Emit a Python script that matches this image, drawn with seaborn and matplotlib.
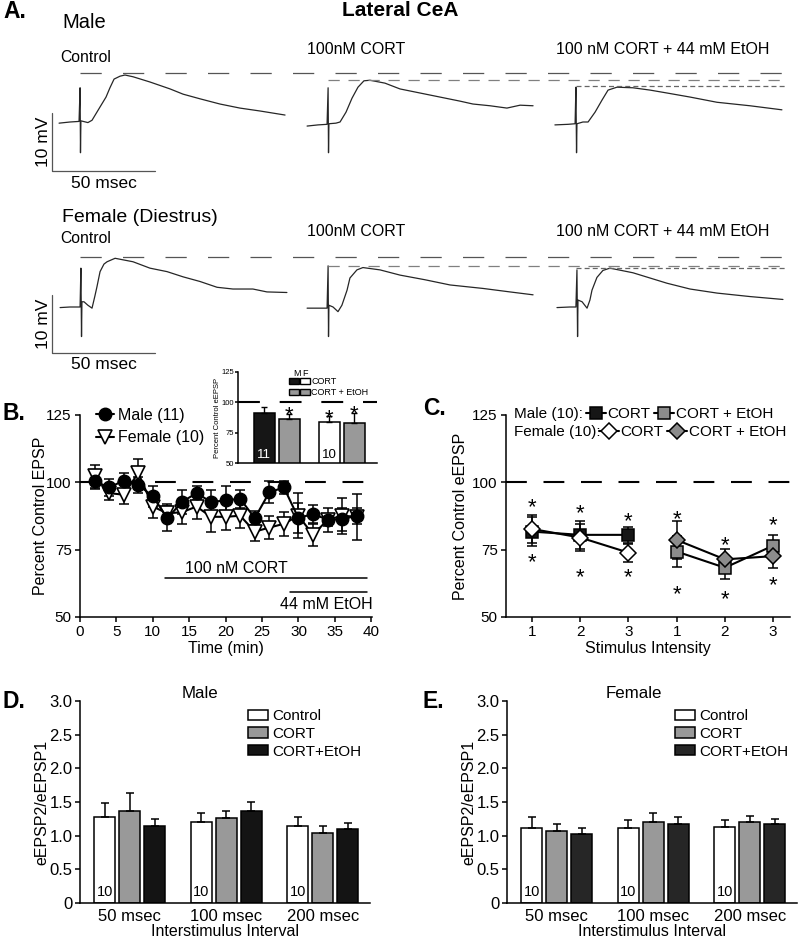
import numpy as np
import pandas as pd
import matplotlib
matplotlib.use("Agg")
import matplotlib.pyplot as plt
import matplotlib.transforms as mtrans
import seaborn as sns
from matplotlib.patches import Patch
from matplotlib.legend_handler import HandlerTuple

# ---------------- data ----------------
# A: example traces (time in ms, mV relative to control baseline of each row)
male_ctrl_t = [4.4, 9.7, 14.1, 14.6, 14.8, 15.0, 18.4, 20.4, 24.3, 27.2, 29.1, 31.1, 34.0, 36.4, 40.3,
               48.5, 58.3, 64.6, 72.8, 82.5, 92.2, 101.9, 114.1]
male_ctrl_mv = [-0.2, 0.0, 0.1, 5.9, -5.3, 0.2, -0.1, 0.3, 2.6, 4.3, 5.9, 7.4, 7.9, 8.1, 7.8,
                6.9, 5.7, 4.8, 4.0, 3.1, 2.4, 1.9, 1.2]
male_cort_t = [124.8, 130.1, 134.5, 135.0, 135.2, 135.4, 138.8, 140.8, 143.7, 146.6, 149.5, 152.4, 155.3,
               162.6, 169.9, 179.6, 189.3, 199.0, 205.3, 213.6, 221.8, 228.2, 234.5]
male_cort_mv = [-0.7, -0.5, -0.4, 5.9, -5.3, -0.3, -0.2, 0.0, 1.7, 4.1, 6.0, 7.1, 7.2,
                6.7, 5.7, 5.0, 4.3, 3.6, 3.1, 2.8, 2.4, 2.9, 2.8]
male_etoh_t = [245.1, 251.5, 254.9, 255.3, 255.6, 255.8, 258.7, 261.2, 264.6, 268.0, 270.9, 275.2, 283.0,
               291.3, 299.5, 310.7, 323.8, 339.8, 355.3]
male_etoh_mv = [-0.5, -0.4, -0.3, 6.0, -5.3, -0.3, 0.0, 0.0, 1.7, 3.8, 5.5, 6.0, 5.9,
                5.5, 5.0, 4.3, 3.4, 2.8, 2.1]
female_ctrl_t = [4.9, 9.7, 14.6, 15.0, 15.3, 15.5, 16.5, 18.4, 20.4, 21.8, 22.8, 24.3, 26.2, 27.7, 31.6,
                 40.3, 48.5, 56.8, 64.6, 72.8, 81.1, 88.8, 98.5, 105.3, 115.0]
female_ctrl_mv = [-0.1, 0.0, 0.0, 6.7, -5.1, 0.9, 0.9, 0.3, -0.2, 1.9, 3.5, 6.1, 7.4, 7.8, 8.4,
                  7.8, 6.7, 6.1, 5.2, 4.4, 3.4, 3.1, 3.1, 2.6, 2.5]
female_cort_t = [124.8, 130.1, 134.5, 135.0, 135.2, 135.4, 137.4, 139.8, 141.7, 144.2, 145.6, 149.0, 151.9,
                 160.2, 169.9, 182.0, 194.2, 210.2, 223.3, 234.5]
female_cort_mv = [-0.2, -0.2, -0.2, 7.1, -5.1, 0.3, 0.0, -0.8, 0.3, 2.9, 5.0, 6.4, 6.8,
                  6.4, 5.5, 4.7, 3.8, 3.2, 2.6, 2.1]
female_etoh_t = [246.1, 252.4, 255.3, 255.8, 256.1, 256.3, 258.3, 260.7, 262.1, 263.1, 265.5, 268.4, 271.8,
                 283.0, 299.5, 310.7, 323.8, 339.8, 355.8]
female_etoh_mv = [-0.1, 0.0, 0.0, 6.4, -5.1, 1.2, 0.9, -0.2, 1.2, 2.9, 5.1, 6.3, 6.7,
                  5.9, 4.1, 3.1, 2.4, 1.8, 1.3]
# peak reference levels (mV) and where they start (ms)
male_peaks = [8.45, 7.24, 6.21]
female_peaks = [8.62, 7.07, 6.81]
peak_starts = [14.6, 135.0, 255.5]

# B: time course
time_min = [2, 4, 6, 8, 10, 12, 14, 16, 18, 20, 22, 24, 26, 28, 30, 32, 34, 36, 38]
male_pct = [100.4, 98.1, 100.6, 99.1, 94.8, 86.7, 92.7, 96.0, 92.7, 93.3, 93.9, 86.7, 96.3, 98.1,
            86.7, 88.3, 86.1, 86.3, 87.6]
male_sem = [3.0, 3.2, 2.9, 3.0, 4.0, 4.6, 4.6, 2.5, 4.6, 5.2, 3.4, 2.7, 4.1, 2.5, 5.6, 3.4, 2.2, 4.3, 3.0]
female_pct = [102.2, 96.0, 95.4, 103.5, 91.0, 88.5, 88.9, 91.0, 87.2, 87.2, 87.6, 81.7, 83.2, 84.6,
              87.6, 80.5, 86.1, 87.6, 87.2]
female_sem = [4.4, 2.7, 3.5, 5.0, 4.4, 3.4, 4.4, 4.6, 5.6, 5.0, 4.7, 3.5, 4.4, 4.4, 8.3, 4.0, 4.5, 6.6, 8.5]

# B inset
inset_labels = ["M CORT", "M CORT + EtOH", "F CORT", "F CORT + EtOH"]
inset_pos = [0, 1, 2.6, 3.6]
inset_vals = [91, 86, 84, 83]
inset_sem = [5, 4.5, 4.5, 8]
inset_n = ["11", "", "10", ""]
inset_colors = ["#161616", "#999999", "white", "#999999"]
inset_star = [None, 95.3, 93.0, 96.0]

# C: input-output
intensity_labels = ["1", "2", "3", "1", "2", "3"]
c_x_cort = [1, 2, 3]
c_x_etoh = [4, 5, 6]
c_male_cort = [81.7, 80.5, 80.5]
c_male_cort_sem = [5.5, 5.2, 3.1]
c_female_cort = [82.7, 79.5, 73.9]
c_female_cort_sem = [5.3, 5.1, 3.3]
c_male_etoh = [74.3, 68.3, 76.5]
c_male_etoh_sem = [5.8, 4.1, 4.0]
c_female_etoh = [78.6, 71.4, 72.6]
c_female_etoh_sem = [7.0, 4.0, 4.5]
star_above = [93.5, 91.0, 88.2, 88.9, 79.2, 86.7]
star_below = [72.8, 67.4, 67.4, 60.9, 59.1, 64.3]

# D / E: paired pulse ratio
isi_labels = ["50 msec", "100 msec", "200 msec"]
treatments = ["Control", "CORT", "CORT+EtOH"]
male_ctrl_ppr = [1.27, 1.20, 1.15]
male_cort_ppr = [1.37, 1.26, 1.04]
male_etoh_ppr = [1.14, 1.36, 1.10]
male_ctrl_err = [0.21, 0.13, 0.13]
male_cort_err = [0.27, 0.11, 0.11]
male_etoh_err = [0.11, 0.14, 0.09]
female_ctrl_ppr = [1.12, 1.12, 1.13]
female_cort_ppr = [1.07, 1.20, 1.21]
female_etoh_ppr = [1.03, 1.17, 1.17]
female_ctrl_err = [0.15, 0.11, 0.11]
female_cort_err = [0.11, 0.13, 0.08]
female_etoh_err = [0.08, 0.10, 0.08]

# ---------------- style ----------------
sns.set_style("ticks")
plt.rcParams["font.family"] = ["Liberation Sans", "DejaVu Sans"]
plt.rcParams.update({
    "axes.linewidth": 1.1, "axes.edgecolor": "black", "text.color": "black",
    "axes.labelcolor": "black", "xtick.color": "black", "ytick.color": "black",
    "xtick.major.size": 3.5, "ytick.major.size": 3.5,
    "xtick.major.width": 1.1, "ytick.major.width": 1.1,
    "xtick.major.pad": 2.5, "ytick.major.pad": 2.5,
})

W, H = 800, 939
fig = plt.figure(figsize=(W / 100, H / 100), dpi=100)


def box(x0, y0, x1, y1):
    return [x0 / W, 1 - y1 / H, (x1 - x0) / W, (y1 - y0) / H]


def ftext(x, y, s, **kw):
    kw.setdefault("va", "center")
    fig.text(x / W, 1 - y / H, s, **kw)


# ---------------- panel A ----------------
ftext(3, 12, "A.", fontsize=16.5, fontweight="bold")
ftext(400, 10, "Lateral CeA", fontsize=15, fontweight="bold", ha="center")
ftext(62, 23, "Male", fontsize=14.5)
ftext(60, 58, "Control", fontsize=11.3)
ftext(307, 49, "100nM CORT", fontsize=11.5)
ftext(556, 49, "100 nM CORT + 44 mM EtOH", fontsize=11.5)
ftext(62, 217, "Female (Diestrus)", fontsize=14)
ftext(60, 239, "Control", fontsize=11.3)
ftext(307, 232, "100nM CORT", fontsize=11.5)
ftext(556, 231, "100 nM CORT + 44 mM EtOH", fontsize=11.5)

ref_styles = [("#555555", (0, (17, 17))), ("#808080", (0, (9, 7))), ("#666666", (0, (4, 2.5)))]


def trace_row(top, traces, peaks, bar_bottom, label_y):
    ax = fig.add_axes(box(50, top, 790, top + 120))
    ax.set_xlim(0, 740 / 2.06)
    ax.set_ylim(-10.0, 10.69)
    ax.axis("off")
    for t, v in traces:
        sns.lineplot(x=t, y=v, ax=ax, color="#262626", lw=0.9, sort=False, estimator=None)
    for lvl, t0, (c, ls) in zip(peaks, peak_starts, ref_styles):
        ax.plot([t0, 356.8], [lvl, lvl], color=c, lw=0.9, ls=ls)
    # scale bar 50 ms / 10 mV
    ax.plot([1.0, 1.0, 51.0], [bar_bottom + 10, bar_bottom, bar_bottom], color="#555555", lw=0.9)
    ftext(43, label_y[0], "10 mV", fontsize=12.5, rotation=90, ha="center")
    ftext(104, label_y[1], "50 msec", fontsize=12.5, ha="center")


trace_row(60, [(male_ctrl_t, male_ctrl_mv), (male_cort_t, male_cort_mv), (male_etoh_t, male_etoh_mv)],
          male_peaks, -8.45, (142, 183))
trace_row(245, [(female_ctrl_t, female_ctrl_mv), (female_cort_t, female_cort_mv),
                (female_etoh_t, female_etoh_mv)], female_peaks, -7.93, (324, 364))

dash100 = (0, (10, 8))

# ---------------- panel B ----------------
ftext(2, 413, "B.", fontsize=16.5, fontweight="bold")
ax_b = fig.add_axes(box(80, 415, 372, 617))
ax_b.set_facecolor("none")
ax_b.axhline(100, color="black", lw=1.5, ls=dash100, zorder=1)
ax_b.errorbar(time_min, female_pct, yerr=female_sem, fmt="none", ecolor="black",
              elinewidth=1.1, capsize=3.5, capthick=1.1, zorder=2)
ax_b.errorbar(time_min, male_pct, yerr=male_sem, fmt="none", ecolor="black",
              elinewidth=1.1, capsize=3.5, capthick=1.1, zorder=2)
sns.lineplot(x=time_min, y=female_pct, ax=ax_b, color="black", lw=1.5, marker="v",
             markersize=9.5, markerfacecolor="white", markeredgecolor="black",
             markeredgewidth=1.2, zorder=3)
sns.lineplot(x=time_min, y=male_pct, ax=ax_b, color="black", lw=1.5, marker="o",
             markersize=9, markerfacecolor="black", markeredgecolor="black",
             markeredgewidth=1.0, zorder=4)
lines_b = ax_b.get_lines()
h_female, h_male = lines_b[-2], lines_b[-1]
ax_b.plot([11.7, 39.4], [64.6, 64.6], color="black", lw=1.1)
ax_b.plot([28.9, 39.4], [59.3, 59.3], color="black", lw=1.1)
ax_b.text(21.5, 67.9, "100 nM CORT", fontsize=11.5, ha="center", va="center")
ax_b.text(33.8, 54.5, "44 mM EtOH", fontsize=11.5, ha="center", va="center")
ax_b.set_xlim(0, 40.1)
ax_b.set_ylim(50, 125)
ax_b.set_xticks(range(0, 41, 5))
ax_b.set_yticks([50, 75, 100, 125])
ax_b.tick_params(labelsize=11)
ax_b.set_xlabel("Time (min)", fontsize=11.5)
ax_b.set_ylabel("Percent Control EPSP", fontsize=11.5)
ax_b.xaxis.set_label_coords(0.5, -0.12)
ax_b.yaxis.set_label_coords(-0.11, 0.5)
sns.despine(ax=ax_b)
ax_b.legend([h_male, h_female], ["Male (11)", "Female (10)"], loc="upper left",
            bbox_to_anchor=(96 / W, 1 - 408 / H), bbox_transform=fig.transFigure,
            frameon=False, fontsize=11.5, handlelength=1.1, handletextpad=0.3,
            borderpad=0, borderaxespad=0, labelspacing=0.45)

# inset
ax_in = fig.add_axes(box(238, 372, 377, 463))
ax_in.set_facecolor("none")
ax_in.axhline(100, color="black", lw=1.5, ls=(0, (10.5, 9.5)), zorder=0)
sns.barplot(x=inset_pos, y=inset_vals, hue=inset_labels, palette=dict(zip(inset_labels, inset_colors)),
            native_scale=True, dodge=False, width=0.84, saturation=1, edgecolor="black",
            linewidth=1.1, errorbar=None, legend=False, ax=ax_in, zorder=2)
ax_in.errorbar(inset_pos, inset_vals, yerr=[np.zeros(4), inset_sem], fmt="none", ecolor="black",
               elinewidth=1.0, capsize=2.5, capthick=1.0, zorder=3)
for xp, n, c in zip(inset_pos, inset_n, inset_colors):
    ax_in.text(xp, 57, n, fontsize=9.5, ha="center", va="center",
               color="white" if c != "white" else "black")
star_tr_in = mtrans.offset_copy(ax_in.transData, fig=fig, y=-0.58 * 16, units="points")
for xp, s in zip(inset_pos, inset_star):
    if s is not None:
        ax_in.text(xp, s, "*", fontsize=16, ha="center", va="baseline", transform=star_tr_in)
ax_in.set_xlim(-1.06, 4.52)
ax_in.set_ylim(50, 125)
ax_in.set_yticks([50, 75, 100, 125])
ax_in.set_xticks([])
ax_in.tick_params(labelsize=5.5, length=2, pad=1)
ax_in.set_ylabel("Percent Control eEPSP", fontsize=5.5)
ax_in.yaxis.set_label_coords(-0.125, 0.5)
sns.despine(ax=ax_in)
ftext(297, 373, "M", fontsize=6.5, ha="center")
ftext(305, 373, "F", fontsize=6.5, ha="center")
ax_in.legend([(Patch(fc="#161616", ec="black"), Patch(fc="white", ec="black")),
              (Patch(fc="#999999", ec="black"), Patch(fc="#999999", ec="black"))],
             ["CORT", "CORT + EtOH"], handler_map={tuple: HandlerTuple(ndivide=None, pad=0.1)},
             loc="upper left", bbox_to_anchor=(289 / W, 1 - 377 / H), bbox_transform=fig.transFigure,
             frameon=False, fontsize=6.5, handlelength=2.3, handleheight=0.65, handletextpad=0.15,
             borderpad=0, borderaxespad=0, labelspacing=0.25)

# ---------------- panel C ----------------
ftext(423, 409, "C.", fontsize=16.5, fontweight="bold")
ax_c = fig.add_axes(box(506, 415, 790, 617))
ax_c.set_facecolor("none")
ax_c.axhline(100, color="black", lw=1.5, ls=dash100, zorder=1)
series_c = [
    (c_x_cort, c_male_cort, c_male_cort_sem, "s", "#161616"),
    (c_x_cort, c_female_cort, c_female_cort_sem, "D", "white"),
    (c_x_etoh, c_male_etoh, c_male_etoh_sem, "s", "#8c8c8c"),
    (c_x_etoh, c_female_etoh, c_female_etoh_sem, "D", "#8c8c8c"),
]
handles_c = []
for xs, ys, es, mk, fc in series_c:
    ax_c.errorbar(xs, ys, yerr=es, fmt="none", ecolor="black", elinewidth=1.1,
                  capsize=3.5, capthick=1.1, zorder=2)
    sns.lineplot(x=xs, y=ys, ax=ax_c, color="black", lw=1.5, marker=mk,
                 markersize=8.5 if mk == "s" else 8, markerfacecolor=fc,
                 markeredgecolor="black", markeredgewidth=1.1, zorder=3)
    handles_c.append(ax_c.get_lines()[-1])
star_tr = mtrans.offset_copy(ax_c.transData, fig=fig, y=-0.58 * 16, units="points")
for xp, ya, yb in zip(c_x_cort + c_x_etoh, star_above, star_below):
    ax_c.text(xp, ya, "*", fontsize=16, ha="center", va="baseline", transform=star_tr)
    ax_c.text(xp, yb, "*", fontsize=16, ha="center", va="baseline", transform=star_tr)
ax_c.set_xlim(0.46, 6.35)
ax_c.set_ylim(50, 125)
ax_c.set_xticks(c_x_cort + c_x_etoh)
ax_c.set_xticklabels(intensity_labels)
ax_c.set_yticks([50, 75, 100, 125])
ax_c.tick_params(labelsize=11)
ax_c.set_xlabel("Stimulus Intensity", fontsize=11.5)
ax_c.set_ylabel("Percent Control eEPSP", fontsize=11.5)
ax_c.xaxis.set_label_coords(0.5, -0.12)
ax_c.yaxis.set_label_coords(-0.135, 0.5)
sns.despine(ax=ax_c)
ftext(514, 414, "Male (10):", fontsize=11)
ftext(514, 432, "Female (10):", fontsize=11)
leg_kw = dict(ncol=2, loc="center left", bbox_transform=fig.transFigure, frameon=False,
              fontsize=11, handlelength=1.3, handletextpad=0.1, columnspacing=0.25,
              borderpad=0, borderaxespad=0)
leg_c1 = ax_c.legend([handles_c[0], handles_c[2]], ["CORT", "CORT + EtOH"],
                     bbox_to_anchor=(586 / W, 1 - 414 / H), **leg_kw)
ax_c.add_artist(leg_c1)
ax_c.legend([handles_c[1], handles_c[3]], ["CORT", "CORT + EtOH"],
            bbox_to_anchor=(599 / W, 1 - 432 / H), **leg_kw)


# ---------------- panels D / E ----------------
def ppr_panel(x0, x1, letter, letter_x, title, title_x, vals, errs, dark):
    df = pd.DataFrame({
        "interval": isi_labels * 3,
        "treatment": [t for t in treatments for _ in isi_labels],
        "ratio": vals[0] + vals[1] + vals[2],
    })
    pal = {"Control": "white", "CORT": "#999999", "CORT+EtOH": dark}
    ax = fig.add_axes(box(x0, 701, x1, 903))
    ax.set_facecolor("none")
    sns.barplot(data=df, x="interval", y="ratio", hue="treatment", order=isi_labels,
                hue_order=treatments, palette=pal, saturation=1, width=0.78, gap=0.16,
                edgecolor="black", linewidth=1.1, errorbar=None, legend=False, ax=ax)
    bars = sorted([p for p in ax.patches if p.get_height() > 0], key=lambda p: p.get_x())
    bx = [p.get_x() + p.get_width() / 2 for p in bars]
    bh = [p.get_height() for p in bars]
    be = [errs[j][i] for i in range(3) for j in range(3)]
    ax.errorbar(bx, bh, yerr=[np.zeros(len(be)), be], fmt="none", ecolor="black",
                elinewidth=1.1, capsize=3, capthick=1.1, zorder=3)
    for xb in bx[::3]:
        ax.text(xb, 0.16, "10", fontsize=10.5, ha="center", va="center")
    ax.set_xlim(-0.515, 2.49)
    ax.set_ylim(0, 3)
    ax.set_yticks([0, 0.5, 1, 1.5, 2, 2.5, 3])
    ax.set_yticklabels(["0", "0.5", "1.0", "1.5", "2.0", "2.5", "3.0"])
    ax.tick_params(labelsize=12)
    ax.tick_params(axis="y", pad=2)
    ax.tick_params(axis="x", length=0, pad=4)
    ax.set_xlabel("Interstimulus Interval", fontsize=11.5)
    ax.set_ylabel("eEPSP2/eEPSP1", fontsize=11.5)
    ax.xaxis.set_label_coords(0.5, -0.105)
    ax.yaxis.set_label_coords(-0.105, 0.5)
    sns.despine(ax=ax)
    ax.text(title_x, 1.035, title, fontsize=12.2, ha="center", va="center", transform=ax.transAxes)
    ftext(letter_x, 701, letter, fontsize=16.5, fontweight="bold")
    handles = [Patch(facecolor=pal[t], edgecolor="black", lw=1.1) for t in treatments]
    ax.legend(handles, treatments, loc="upper left",
              bbox_to_anchor=((x0 + 168) / W, 1 - 709 / H), bbox_transform=fig.transFigure,
              frameon=False, fontsize=11, handlelength=1.3, handleheight=0.65,
              handletextpad=0.3, borderpad=0, borderaxespad=0, labelspacing=0.25)


ppr_panel(80, 370, "D.", 2, "Male", 0.414,
          [male_ctrl_ppr, male_cort_ppr, male_etoh_ppr],
          [male_ctrl_err, male_cort_err, male_etoh_err], "#141414")
ppr_panel(507, 797, "E.", 422, "Female", 0.438,
          [female_ctrl_ppr, female_cort_ppr, female_etoh_ppr],
          [female_ctrl_err, female_cort_err, female_etoh_err], "#262626")

fig.savefig("out.png", dpi=100)
